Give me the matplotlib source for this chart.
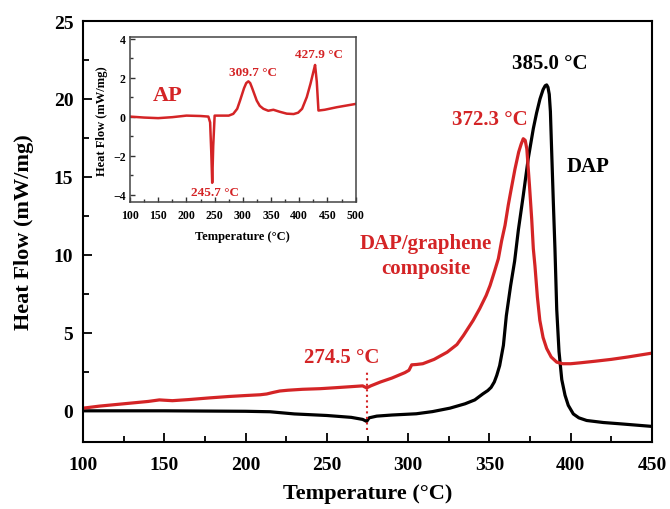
import matplotlib
matplotlib.use("Agg")
import matplotlib.pyplot as plt
from matplotlib.ticker import MultipleLocator

plt.rcParams['font.family'] = ['Liberation Serif', 'DejaVu Serif']
plt.rcParams['font.weight'] = 'bold'
plt.rcParams['mathtext.default'] = 'regular'

RED = '#d42426'

# DAP/graphene composite (main, red)
comp_T = [100, 110, 125, 140, 147, 150, 155, 165, 178, 190, 200, 209, 213, 217, 221, 226, 235,
          246, 255, 265, 272, 274.5, 277, 283, 290, 298, 300.5, 302.2, 305, 309, 316, 324, 330,
          334, 340, 344, 348, 350.4, 353, 355.5, 357.5, 359.6, 361.6, 363, 365.7, 368, 369.5,
          370.8, 372, 373, 374.6, 376, 377, 378, 379.5, 381, 383, 385.2, 388, 391.4, 395, 400,
          406, 415, 425, 435, 450]
comp_hf = [0.17, 0.3, 0.45, 0.6, 0.7, 0.68, 0.65, 0.72, 0.83, 0.92, 0.98, 1.03, 1.08, 1.18, 1.27,
           1.32, 1.38, 1.42, 1.48, 1.55, 1.6, 1.47, 1.6, 1.85, 2.1, 2.45, 2.6, 2.95, 2.97, 3.02,
           3.3, 3.76, 4.25, 4.83, 5.8, 6.55, 7.4, 8.04, 8.9, 9.76, 10.9, 11.9, 13.2, 14.0, 15.5,
           16.6, 17.1, 17.45, 17.35, 16.8, 14.5, 12.3, 10.4, 9.3, 7.3, 5.8, 4.7, 4.0, 3.45, 3.12,
           3.02, 3.02, 3.08, 3.18, 3.3, 3.45, 3.7]

# DAP (main, black)
dap_T = [100, 150, 200, 215, 230, 250, 265, 272, 274.5, 276, 280.7, 290, 305, 315, 325.7, 335,
         341, 346, 349, 351, 353, 354.5, 356.3, 358.6, 360.4, 363, 365.5, 367.8, 370.8, 373.9,
         377, 379, 381.1, 383, 384.3, 385.2, 386, 386.8, 387.5, 388.3, 389.3, 390.3, 391.4,
         392.8, 394.5, 396.5, 398.5, 401.6, 405, 409.8, 420, 430, 450]
dap_hf = [0.0, 0.0, -0.03, -0.06, -0.2, -0.3, -0.42, -0.55, -0.68, -0.45, -0.34, -0.27, -0.19,
          -0.05, 0.17, 0.45, 0.7, 1.09, 1.3, 1.5, 1.85, 2.27, 2.9, 4.2, 6.1, 8.0, 9.6, 11.6, 13.8,
          16.2, 18.1, 19.1, 20.0, 20.6, 20.85, 20.9, 20.75, 20.3, 19.2, 16.6, 13.4, 10.4, 6.5,
          3.8, 2.0, 1.0, 0.35, -0.2, -0.45, -0.62, -0.75, -0.83, -1.0]

# AP (inset)
ap_T = [100, 125, 150, 175, 200, 225, 238.9, 242, 244, 245.7, 247.5, 250, 259.6, 275, 283, 290,
        295, 302, 306, 309.8, 313, 316, 324.6, 330, 336.4, 345, 354.1, 365, 377.8, 390, 398,
        405, 413.3, 420, 425, 428, 431, 434, 445, 466.4, 500]
ap_hf = [0.0, -0.05, -0.08, -0.03, 0.05, 0.03, 0.0, -0.3, -1.8, -3.4, -1.5, 0.05, 0.05, 0.05,
         0.14, 0.4, 0.82, 1.45, 1.72, 1.81, 1.72, 1.5, 0.82, 0.55, 0.4, 0.3, 0.35, 0.25, 0.15,
         0.13, 0.2, 0.4, 1.0, 1.7, 2.3, 2.65, 1.8, 0.31, 0.35, 0.48, 0.65]

fig = plt.figure(figsize=(6.7, 5.1), dpi=100)
ax = fig.add_axes([83/670, 1-443/510, (652-83)/670, (443-22)/510])

ax.plot(dap_T, dap_hf, color='black', lw=2.3, solid_joinstyle='round')
ax.plot(comp_T, comp_hf, color=RED, lw=2.3, solid_joinstyle='round')
ax.plot([274.5, 274.5], [-1.26, 2.58], color=RED, lw=1.5, ls=':')

ax.set_xlim(100, 450)
ax.set_ylim(-2, 25)
ax.xaxis.set_major_locator(MultipleLocator(50))
ax.xaxis.set_minor_locator(MultipleLocator(25))
ax.yaxis.set_major_locator(MultipleLocator(5))
ax.yaxis.set_minor_locator(MultipleLocator(2.5))
ax.tick_params(which='both', direction='in', top=False, right=False, width=1.3)
ax.tick_params(which='major', length=6.5, labelsize=14)
ax.tick_params(which='minor', length=4)
ax.tick_params(axis='x', which='major', pad=10)
ax.tick_params(axis='y', which='major', pad=7)
for lab in ax.get_xticklabels() + ax.get_yticklabels():
    lab.set_fontweight('bold')
for s in ax.spines.values():
    s.set_linewidth(1.5)
ax.set_xlabel('Temperature (°C)', fontsize=16, fontweight='bold', labelpad=7)
ax.set_ylabel('Heat Flow (mW/mg)', fontsize=16, fontweight='bold', labelpad=14)

ax.text(387.4, 22.3, '385.0 °C', color='black', fontsize=15, fontweight='bold', ha='center', va='center')
ax.text(350.4, 18.7, '372.3 °C', color=RED, fontsize=15, fontweight='bold', ha='center', va='center')
ax.text(410.6, 15.7, 'DAP', color='black', fontsize=15, fontweight='bold', ha='center', va='center')
ax.text(311, 9.97, 'DAP/graphene\ncomposite', color=RED, fontsize=15, fontweight='bold',
        ha='center', va='center', linespacing=1.3)
ax.text(259.1, 3.45, '274.5 °C', color=RED, fontsize=15, fontweight='bold', ha='center', va='center')

# inset
ins = fig.add_axes([130/670, 1-203.3/510, (355.7-130)/670, (203.3-38.3)/510])
ins.plot(ap_T, ap_hf, color=RED, lw=1.8, solid_joinstyle='round')
ins.set_xlim(100, 500)
ins.set_ylim(-4.4, 4.07)
ins.xaxis.set_major_locator(MultipleLocator(50))
ins.xaxis.set_minor_locator(MultipleLocator(25))
ins.yaxis.set_major_locator(MultipleLocator(2))
ins.yaxis.set_minor_locator(MultipleLocator(1))
ins.tick_params(which='both', direction='in', top=False, right=False, width=1.0, colors='#333333')
ins.tick_params(which='major', length=3.5, labelsize=8.5)
ins.tick_params(which='minor', length=2)
ins.tick_params(axis='x', which='major', pad=5)
ins.tick_params(axis='y', which='major', pad=3)
for lab in ins.get_xticklabels() + ins.get_yticklabels():
    lab.set_fontweight('bold')
    lab.set_color('black')
for s in ins.spines.values():
    s.set_linewidth(1.1)
    s.set_color('#444444')
ins.set_xlabel('Temperature (°C)', fontsize=9, fontweight='bold', labelpad=6)
ins.set_ylabel('Heat Flow (mW/mg)', fontsize=9, fontweight='bold', labelpad=4)
ins.text(167, 1.1, 'AP', color=RED, fontsize=16, fontweight='bold', ha='center', va='center')
ins.text(318.6, 2.28, '309.7 °C', color=RED, fontsize=9.5, fontweight='bold', ha='center', va='center')
ins.text(435.6, 3.2, '427.9 °C', color=RED, fontsize=9.5, fontweight='bold', ha='center', va='center')
ins.text(250.7, -3.85, '245.7 °C', color=RED, fontsize=9.5, fontweight='bold', ha='center', va='center')

fig.savefig('out.png', dpi=100)
